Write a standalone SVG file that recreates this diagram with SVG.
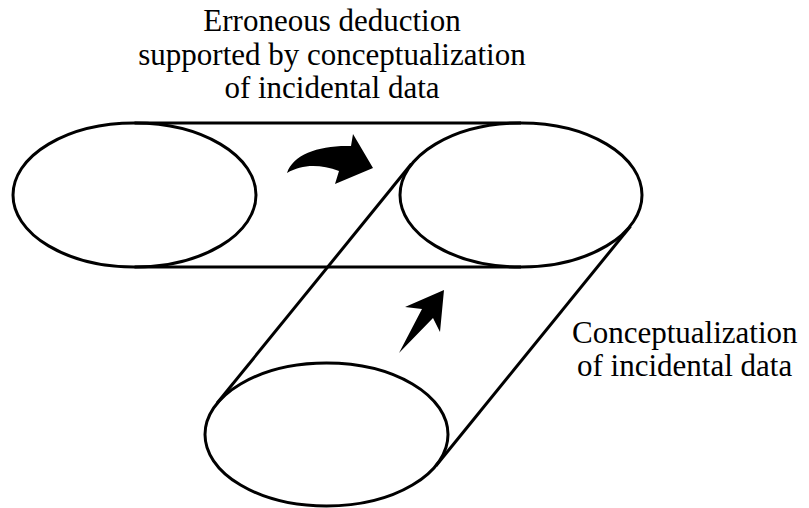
<svg xmlns="http://www.w3.org/2000/svg" width="809" height="508" viewBox="0 0 809 508">
<style>
.e{fill:none;stroke:#000;stroke-width:3}
.l{stroke:#000;stroke-width:3;fill:none}
.a{fill:#000;stroke:none}
</style>
<rect width="809" height="508" fill="#fff"/>
<g id="connectors">
<line class="l" x1="134.5" y1="123" x2="521" y2="123"/>
<line class="l" x1="134.5" y1="267" x2="521" y2="267"/>
<line class="l" x1="411.5" y1="163.8" x2="217" y2="403.3"/>
<line class="l" x1="630.5" y1="226.2" x2="436" y2="465.7"/>
<path class="a" d="M287,173 C293,154 320,145 351,146 L353,134 L373,168 L335,184 L339,171 C320,164 302,164 287,173 Z"/>
<path class="a" d="M399,353 L422,309 L405,307 L444,290 L440,332 L433,318 Z"/>
</g>
<g id="node-left"><ellipse class="e" cx="134.5" cy="195" rx="121.5" ry="72"/></g>
<g id="node-right"><ellipse class="e" cx="521" cy="195" rx="121" ry="72"/></g>
<g id="node-bottom"><ellipse class="e" cx="326.5" cy="434.5" rx="121.5" ry="71.5"/></g>
<g id="labels" fill="#000">
<text font-family="Liberation Serif" font-size="31" text-anchor="middle" x="332" y="31">Erroneous deduction</text>
<text font-family="Liberation Serif" font-size="31" text-anchor="middle" x="332" y="65">supported by conceptualization</text>
<text font-family="Liberation Serif" font-size="31" text-anchor="middle" x="332" y="98">of incidental data</text>
<text font-family="Liberation Serif" font-size="31" x="572" y="343">Conceptualization</text>
<text font-family="Liberation Serif" font-size="31" x="577" y="376">of incidental data</text>
</g>
</svg>
